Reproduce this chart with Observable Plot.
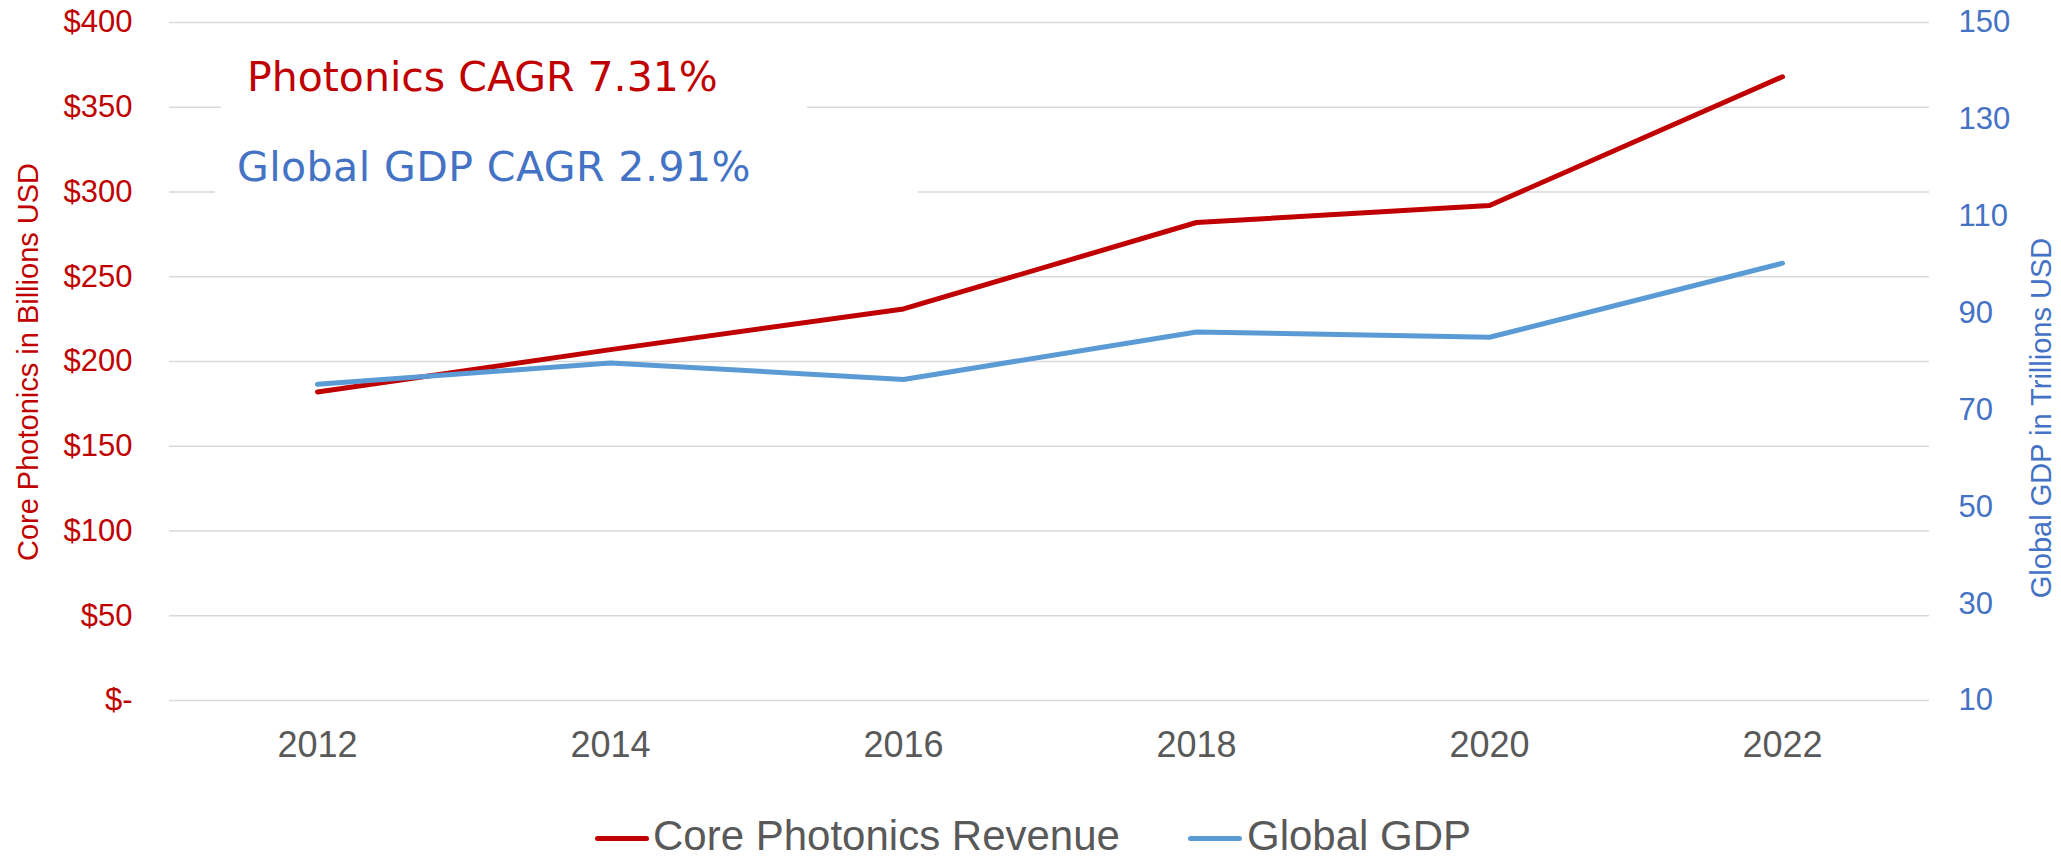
<!DOCTYPE html>
<html>
<head>
<meta charset="utf-8">
<script src="https://cdn.jsdelivr.net/npm/d3@7"></script>
<script src="https://cdn.jsdelivr.net/npm/@observablehq/plot@0.6"></script>
<style>
  html, body { margin: 0; padding: 0; background: #fff; }
  #wrap { position: relative; width: 2061px; height: 861px; overflow: hidden; font-family: "Liberation Sans", Arial, sans-serif; }
  #chart { position: absolute; left: 0; top: 0; }
  .ytitle { position: absolute; white-space: nowrap; font-size: 29px; line-height: 1; transform: translate(-50%, -50%) rotate(-90deg); }
  .box { position: absolute; background: #fff; }
  .cagr { position: absolute; white-space: nowrap; font-family: "DejaVu Sans", sans-serif; font-size: 41px; line-height: 1; }
  .sw { position: absolute; height: 5px; border-radius: 3px; }
  .lt { position: absolute; white-space: nowrap; font-size: 42px; line-height: 1; color: #595959; }
</style>
</head>
<body>
<div id="wrap">
  <div id="chart"></div>
</div>
<script>
// ---- data ----
const years = ["2012", "2014", "2016", "2018", "2020", "2022"];
const photonicsRevenue = [182, 207, 231, 282, 292, 368];   // billions USD (left axis)
const globalGDP = [75.3, 79.7, 76.3, 86.1, 85.0, 100.3];     // trillions USD (right axis)
const leftTicks = [0, 50, 100, 150, 200, 250, 300, 350, 400];
const rightTicks = [10, 30, 50, 70, 90, 110, 130, 150];
const seriesNames = ["Core Photonics Revenue", "Global GDP"];
const seriesColors = ["#C00000", "#5B9BD5"];
const leftTitle = "Core Photonics in Billions USD";
const rightTitle = "Global GDP in Trillions USD";
const notes = ["Photonics CAGR 7.31%", "Global GDP CAGR 2.91%"];

// secondary axis mapping (right domain 10..150 onto left domain 0..400)
const toLeft = d3.scaleLinear().domain([10, 150]).range([0, 400]);

const revData = years.map((y, i) => ({year: y, value: photonicsRevenue[i]}));
const gdpData = years.map((y, i) => ({year: y, value: toLeft(globalGDP[i])}));

const chart = Plot.plot({
  width: 2061,
  height: 800,
  marginLeft: 169,
  marginRight: 132,
  marginTop: 22,
  marginBottom: 100,
  style: {fontFamily: "'Liberation Sans', Arial, sans-serif", background: "transparent"},
  x: {type: "point", domain: years, padding: 0.5},
  y: {domain: [0, 400]},
  marks: [
    Plot.gridY(leftTicks, {stroke: "#D9D9D9", strokeOpacity: 1, strokeWidth: 1.5}),
    Plot.axisY(leftTicks, {anchor: "left", tickSize: 0, tickPadding: 37, label: null,
      tickFormat: d => d === 0 ? "$-" : "$" + d, fill: "#C00000", fontSize: 31}),
    Plot.axisY(rightTicks.map(toLeft), {anchor: "right", tickSize: 0, tickPadding: 29, label: null,
      tickFormat: d => String(Math.round(toLeft.invert(d))), fill: "#4472C4", fontSize: 31}),
    Plot.axisX({tickSize: 0, tickPadding: 31, label: null, fill: "#595959", fontSize: 36}),
    Plot.lineY(revData, {x: "year", y: "value", stroke: seriesColors[0], strokeWidth: 5, strokeLinecap: "round", strokeLinejoin: "round"}),
    Plot.lineY(gdpData, {x: "year", y: "value", stroke: seriesColors[1], strokeWidth: 5, strokeLinecap: "round", strokeLinejoin: "round"})
  ]
});
document.getElementById("chart").appendChild(chart);

const wrap = document.getElementById("wrap");
function add(cls, css, text) {
  const d = document.createElement("div");
  d.className = cls;
  Object.assign(d.style, css);
  if (text != null) d.textContent = text;
  wrap.appendChild(d);
  return d;
}

// axis titles
add("ytitle", {left: "28px", top: "362px", color: "#C00000"}, leftTitle);
add("ytitle", {left: "2041px", top: "418px", color: "#4472C4"}, rightTitle);

// annotation text boxes (white fill hides the gridline behind)
add("box", {left: "221px", top: "40px", width: "586px", height: "85px"});
add("box", {left: "215px", top: "135px", width: "703px", height: "80px"});
add("cagr", {left: "247px", top: "57px", color: "#C00000"}, notes[0]);
add("cagr", {left: "237px", top: "147px", color: "#4472C4", letterSpacing: "0.45px"}, notes[1]);

// legend (below plot area)
add("sw", {left: "595px", top: "836px", width: "54px", background: seriesColors[0]});
add("lt", {left: "653px", top: "815px"}, seriesNames[0]);
add("sw", {left: "1188px", top: "836px", width: "54px", background: seriesColors[1]});
add("lt", {left: "1247px", top: "815px"}, seriesNames[1]);
</script>
</body>
</html>
